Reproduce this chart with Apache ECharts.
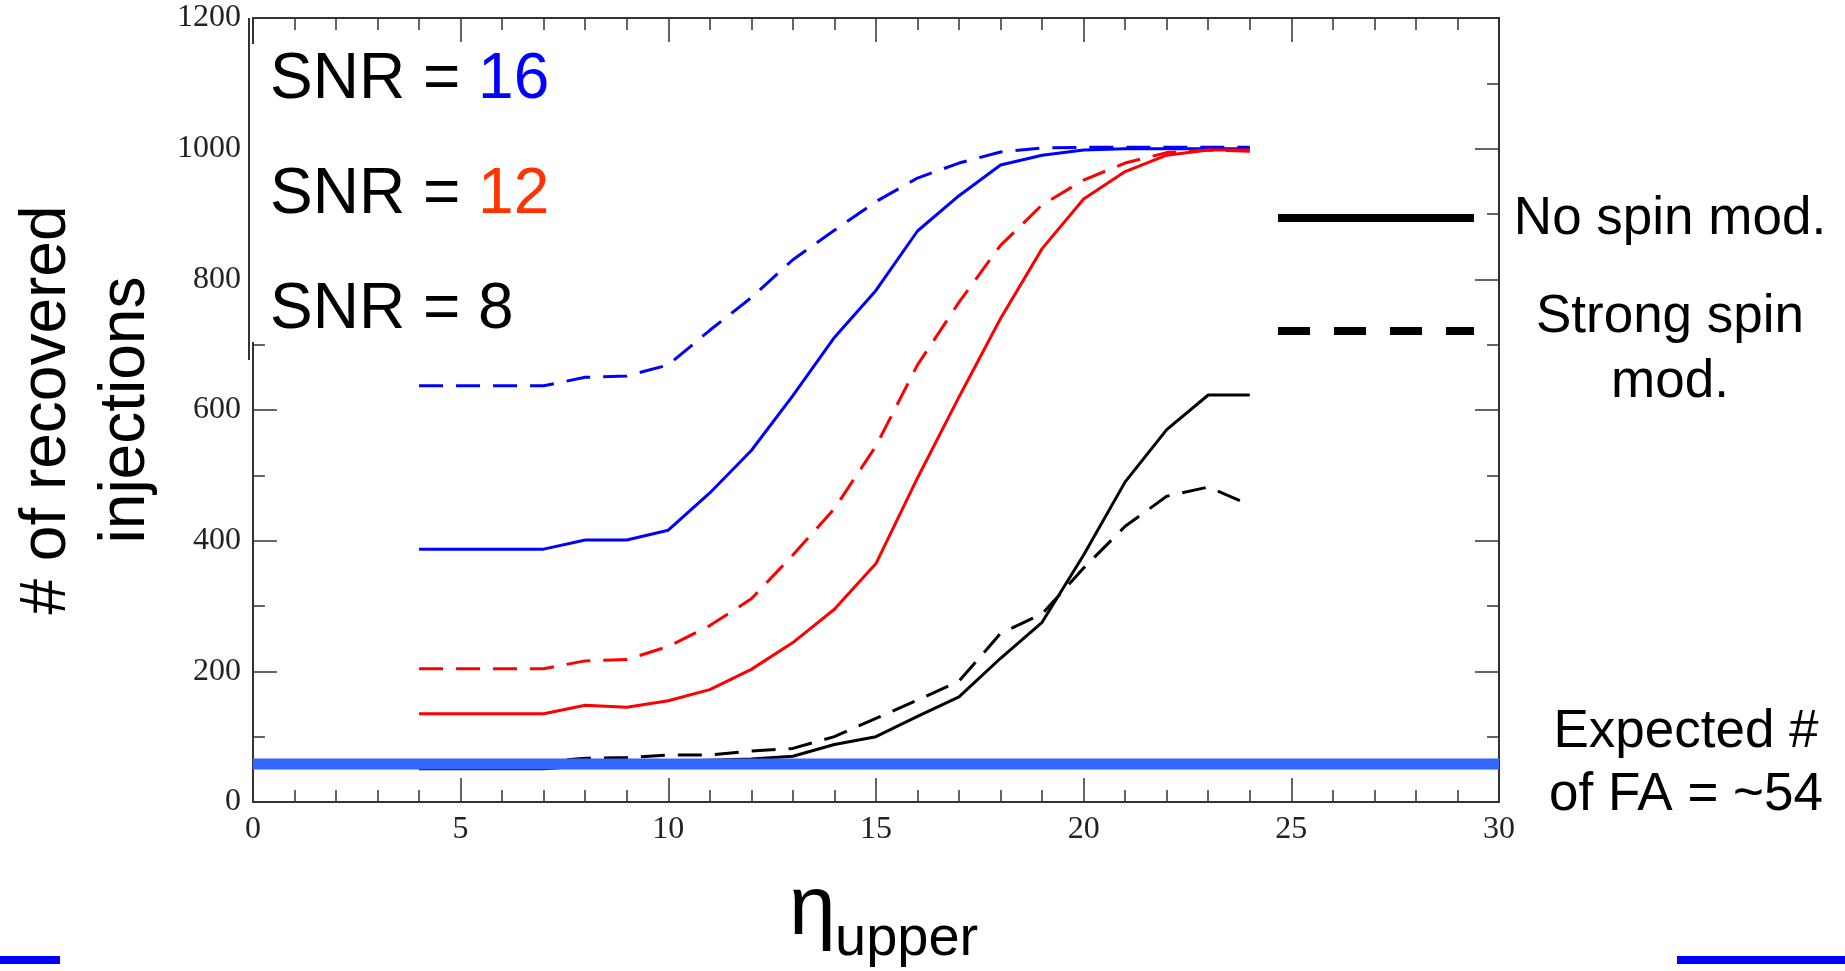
<!DOCTYPE html>
<html><head><meta charset="utf-8">
<script src="https://cdn.jsdelivr.net/npm/echarts@6/dist/echarts.min.js"></script>
<style>html,body{margin:0;padding:0;background:#fff}#c{width:1845px;height:971px}</style>
</head><body><div id="c"></div>
<script>
// ---- data ----
const etaUpper = [4,5,6,7,8,9,10,11,12,13,14,15,16,17,18,19,20,21,22,23,24];
const snr16NoSpin     = [387,387,387,387,401,401,416,473,538,622,711,783,874,928,975,990,998,1000,1000,1000,1000];
const snr16StrongSpin = [637,637,637,637,650,652,669,722,772,830,875,919,955,978,995,1001,1002,1002,1002,1002,1002];
const snr12NoSpin     = [135,135,135,135,148,145,155,172,203,244,295,365,496,620,740,847,923,965,990,998,998];
const snr12StrongSpin = [204,204,204,204,216,218,238,270,311,378,449,545,669,765,852,914,952,978,994,998,996];
const snr8NoSpin      = [51,51,51,51,55,58,62,64,66,70,88,100,131,161,220,275,378,490,570,623,623];
const snr8StrongSpin  = [62,62,62,62,67,68,72,72,78,82,100,128,156,185,258,288,358,422,468,482,455];
const faLevel = 58;
const xRange = [0, 30];
const yRange = [0, 1200];

const BLUE = '#0000ff', RED = '#ff0000', BLACK = '#000000', FA = '#3366ff';
const zip = (xs, ys) => xs.map((x, i) => [x, ys[i]]);

const chart = echarts.init(document.getElementById('c'), null, {renderer: 'canvas'});
const SERIF = '"Liberation Serif","Times New Roman",serif';
const SANS = '"Liberation Sans",Arial,sans-serif';
const axisLine = {show: true, onZero: false, lineStyle: {color: '#333', width: 2}};
const tick = {show: true, inside: true, length: 24, lineStyle: {color: '#333', width: 1.5}};
const plainLabel = v => String(v);

function lineSeries(data, color, dashed) {
  return {
    type: 'line', data: zip(etaUpper, data), showSymbol: false, symbol: 'none',
    lineStyle: {color: color, width: 3, type: dashed ? [24, 13] : 'solid'},
    itemStyle: {color: color}, animation: false
  };
}

const txt = (x, y, text, size, align) => ({
  type: 'text', x: x, y: y, z: 100,
  style: {text: text, fontFamily: SANS, fontSize: size, fill: '#000',
    align: align, textAlign: align, verticalAlign: 'middle', textVerticalAlign: 'middle'}
});

chart.setOption({
  animation: false,
  backgroundColor: '#fff',
  grid: {left: 249, top: 18, right: 346, bottom: 169, containLabel: false},
  xAxis: [{
    type: 'value', position: 'bottom', min: xRange[0], max: xRange[1], interval: 5,
    axisLine: axisLine, axisTick: tick,
    minorTick: {show: true, splitNumber: 5, length: 12, lineStyle: {color: '#333', width: 1.5}},
    splitLine: {show: false},
    axisLabel: {show: true, margin: 12, color: '#222', fontFamily: SERIF, fontSize: 32, formatter: plainLabel, showMinLabel: true, showMaxLabel: true}
  }, {
    type: 'value', position: 'top', min: xRange[0], max: xRange[1], interval: 5,
    axisLine: axisLine, axisTick: tick,
    minorTick: {show: true, splitNumber: 5, length: 12, lineStyle: {color: '#333', width: 1.5}},
    splitLine: {show: false}, axisLabel: {show: false}
  }],
  yAxis: [{
    type: 'value', position: 'left', min: yRange[0], max: yRange[1], interval: 200,
    axisLine: axisLine, axisTick: tick,
    minorTick: {show: true, splitNumber: 2, length: 12, lineStyle: {color: '#333', width: 1.5}},
    splitLine: {show: false},
    axisLabel: {show: true, margin: 12, color: '#222', fontFamily: SERIF, fontSize: 32, formatter: plainLabel, showMinLabel: true, showMaxLabel: true},
    name: '# of recovered\ninjections', nameLocation: 'middle', nameRotate: 90, nameGap: 82,
    nameTextStyle: {fontFamily: SANS, fontSize: 64, lineHeight: 79, color: '#000', align: 'center'}
  }, {
    type: 'value', position: 'right', min: yRange[0], max: yRange[1], interval: 200,
    axisLine: axisLine, axisTick: tick,
    minorTick: {show: true, splitNumber: 2, length: 12, lineStyle: {color: '#333', width: 1.5}},
    splitLine: {show: false}, axisLabel: {show: false}
  }],
  series: [
    lineSeries(snr16NoSpin, BLUE, false),
    lineSeries(snr16StrongSpin, BLUE, true),
    lineSeries(snr12NoSpin, RED, false),
    lineSeries(snr12StrongSpin, RED, true),
    lineSeries(snr8NoSpin, BLACK, false),
    lineSeries(snr8StrongSpin, BLACK, true),
    {
      type: 'line', data: [[xRange[0], faLevel], [xRange[1], faLevel]], showSymbol: false, symbol: 'none',
      lineStyle: {color: FA, width: 11}, z: 5, animation: false
    }
  ],
  graphic: [
    // white box behind SNR labels (hides left ticks there), spine redrawn over it
    {type: 'rect', z: 90, shape: {x: 251, y: 44, width: 300, height: 298}, style: {fill: '#fff'}},
    {type: 'line', z: 95, shape: {x1: 249, y1: 18, x2: 249, y2: 360}, style: {stroke: '#333', lineWidth: 2}},
    // SNR labels
    {type: 'text', x: 270, y: 80, z: 100, style: {text: '{a|SNR = }{b|16}', fontFamily: SANS, fontSize: 64, verticalAlign: 'middle', textVerticalAlign: 'middle',
      rich: {a: {fontFamily: SANS, fontSize: 64, fill: '#000', color: '#000'}, b: {fontFamily: SANS, fontSize: 64, fill: BLUE, color: BLUE}}}},
    {type: 'text', x: 270, y: 195, z: 100, style: {text: '{a|SNR = }{b|12}', fontFamily: SANS, fontSize: 64, verticalAlign: 'middle', textVerticalAlign: 'middle',
      rich: {a: {fontFamily: SANS, fontSize: 64, fill: '#000', color: '#000'}, b: {fontFamily: SANS, fontSize: 64, fill: '#ff3300', color: '#ff3300'}}}},
    txt(270, 310, 'SNR = 8', 64, 'left'),
    // legend
    {type: 'line', shape: {x1: 1278, y1: 218, x2: 1474, y2: 218}, style: {stroke: '#000', lineWidth: 8}},
    {type: 'line', shape: {x1: 1278, y1: 331, x2: 1474, y2: 331}, style: {stroke: '#000', lineWidth: 8, lineDash: [32, 24]}},
    txt(1670, 219, 'No spin mod.', 53, 'center'),
    txt(1670, 317, 'Strong spin', 53, 'center'),
    txt(1670, 382, 'mod.', 53, 'center'),
    txt(1686, 732, 'Expected #', 53, 'center'),
    txt(1686, 795, 'of FA = ~54', 53, 'center'),
    // x axis title
    txt(789, 911, 'η', 84, 'left'),
    txt(835, 940, 'upper', 56, 'left'),
    // slide decorations
    {type: 'rect', shape: {x: 0, y: 956, width: 60, height: 8}, style: {fill: '#0000ff'}},
    {type: 'rect', shape: {x: 1677, y: 956, width: 168, height: 8}, style: {fill: '#0000ff'}}
  ]
});
</script>
</body></html>
